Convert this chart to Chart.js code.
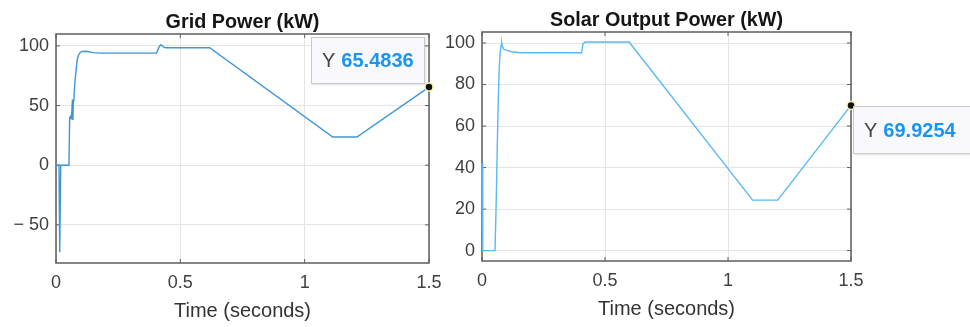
<!DOCTYPE html>
<html>
<head>
<meta charset="utf-8">
<script src="https://cdn.jsdelivr.net/npm/chart.js@4.4.1/dist/chart.umd.min.js"></script>
<style>
  html, body { margin: 0; padding: 0; background: #fff; }
  #wrap { position: relative; width: 970px; height: 327px; overflow: hidden;
          font-family: "Liberation Sans", Arial, Helvetica, sans-serif; }
  .panel { position: absolute; top: 0; height: 327px; }
  .panel canvas { display: block; }
  .title { position: absolute; font-weight: bold; font-size: 19.8px; color: #151515;
           white-space: nowrap; transform: translate(-50%, -50%); }
  .xlabel { position: absolute; font-size: 20px; color: #333; white-space: nowrap;
            transform: translate(-50%, -50%); }
  .tip { position: absolute; box-sizing: border-box; background: #f9f9fd;
         border: 1px solid #c9c9cc; box-shadow: 1px 1px 2px rgba(0,0,0,0.12);
         font-size: 20px; display: flex; align-items: center; padding-left: 10px;
         white-space: nowrap; }
  .tip .k { color: #444; margin-right: 6px; }
  .tip .v { color: #1c95f2; font-weight: bold; }
</style>
</head>
<body>
<div id="wrap">
  <div class="panel" id="pSolar" style="left:440px;width:530px;">
    <canvas id="cSolar" width="530" height="327"></canvas>
    <div class="title" id="tSolar">Solar Output Power (kW)</div>
    <div class="xlabel" id="xSolar">Time (seconds)</div>
    <div class="tip" id="dSolar"><span class="k">Y</span><span class="v"></span></div>
  </div>
  <div class="panel" id="pGrid" style="left:0;width:470px;pointer-events:none;">
    <canvas id="cGrid" width="470" height="327"></canvas>
    <div class="title" id="tGrid">Grid Power (kW)</div>
    <div class="xlabel" id="xGrid">Time (seconds)</div>
    <div class="tip" id="dGrid"><span class="k">Y</span><span class="v"></span></div>
  </div>
</div>
<script>
// Shared time axis ticks (s)
const timeTicks = [0, 0.5, 1, 1.5];

// Grid power (kW) over time (s)
const gridTime = [0, 0.012, 0.015, 0.019, 0.052, 0.055, 0.058, 0.061, 0.063, 0.066, 0.068,
  0.070, 0.072, 0.076, 0.080, 0.085, 0.090, 0.097, 0.105, 0.120, 0.150, 0.180, 0.300,
  0.404, 0.414, 0.422, 0.428, 0.436, 0.445, 0.618, 1.113, 1.210, 1.500];
const gridPower = [0, 0, -73, 0, 0, 40, 41, 39, 42, 55, 38,
  54, 56, 70, 78, 88, 92, 94.5, 95.3, 95.5, 94.4, 94, 94,
  94, 99, 101, 100, 98.6, 98.5, 98.5, 23.6, 23.6, 65.4836];
const gridTicks = [-50, 0, 50, 100];

// Solar output power (kW) over time (s)
const solarTime = [0, 0.003, 0.053, 0.058, 0.062, 0.066, 0.070, 0.074, 0.078, 0.080, 0.084,
  0.090, 0.100, 0.120, 0.155, 0.250, 0.405, 0.410, 0.419, 0.598, 1.100, 1.202, 1.500];
const solarPower = [42, 0, 0, 25, 50, 72, 88, 96, 99, 100.3, 98,
  96.8, 96.6, 95.8, 95.3, 95.3, 95.3, 99.5, 100.5, 100.5, 24.3, 24.3, 69.9254];
const solarTicks = [0, 20, 40, 60, 80, 100];

const FONT = '"Liberation Sans", Arial, Helvetica, sans-serif';

// Axes box with inward tick marks, MATLAB style
const frame = {
  id: 'frame',
  beforeDatasetsDraw(chart) {
    const { ctx, chartArea: a, scales } = chart;
    ctx.save();
    ctx.strokeStyle = '#5e5e5e';
    ctx.lineWidth = 1.5;
    ctx.strokeRect(a.left, a.top, a.right - a.left, a.bottom - a.top);
    ctx.lineWidth = 1;
    ctx.beginPath();
    const L = 4;
    scales.x.ticks.forEach(t => {
      const x = scales.x.getPixelForValue(t.value);
      ctx.moveTo(x, a.bottom); ctx.lineTo(x, a.bottom - L);
      ctx.moveTo(x, a.top); ctx.lineTo(x, a.top + L);
    });
    scales.y.ticks.forEach(t => {
      const y = scales.y.getPixelForValue(t.value);
      ctx.moveTo(a.left, y); ctx.lineTo(a.left + L, y);
      ctx.moveTo(a.right, y); ctx.lineTo(a.right - L, y);
    });
    ctx.stroke();
    ctx.restore();
  }
};

function makePanel(o) {
  const W = o.width, H = 327;
  const last = o.values.length - 1;
  const place = {
    id: 'place',
    afterRender(chart) {
      const a = chart.chartArea;
      const cx = (a.left + a.right) / 2;
      const t = document.getElementById(o.titleId);
      t.style.left = cx + 'px'; t.style.top = o.titleY + 'px';
      const xl = document.getElementById(o.xlabelId);
      xl.style.left = cx + 'px'; xl.style.top = o.xlabelY + 'px';
      const px = chart.scales.x.getPixelForValue(o.times[last]);
      const py = chart.scales.y.getPixelForValue(o.values[last]);
      const tip = document.getElementById(o.tipId);
      tip.querySelector('.v').textContent = o.values[last].toFixed(4);
      tip.style.width = o.tip.w + 'px';
      tip.style.height = o.tip.h + 'px';
      if (o.tip.side === 'above') {
        tip.style.left = (px - 4 - o.tip.w) + 'px';
        tip.style.top = (py - 3 - o.tip.h) + 'px';
      } else {
        tip.style.left = (px + 2) + 'px';
        tip.style.top = (py + 1) + 'px';
      }
    }
  };
  return new Chart(document.getElementById(o.canvasId), {
    type: 'line',
    data: {
      datasets: [{
        data: o.times.map((t, i) => ({ x: t, y: o.values[i] })),
        borderColor: o.color,
        borderWidth: 1.4,
        tension: 0,
        clip: false,
        pointRadius: ctx => (ctx.dataIndex === last ? 4 : 0),
        pointBackgroundColor: '#111',
        pointBorderColor: '#fff3a8',
        pointBorderWidth: 1.5
      }]
    },
    options: {
      responsive: false,
      animation: false,
      events: [],
      layout: { padding: { top: o.area.top, left: 0, right: W - o.area.right, bottom: 0 } },
      plugins: { legend: { display: false }, tooltip: { enabled: false }, title: { display: false } },
      scales: {
        x: {
          type: 'linear', min: 0, max: 1.5,
          afterBuildTicks: s => { s.ticks = timeTicks.map(v => ({ value: v })); },
          afterFit: s => { s.height = H - o.area.bottom; s.paddingLeft = 0; s.paddingRight = 0; },
          grid: { color: '#e4e4e4', lineWidth: 1, drawTicks: false },
          border: { display: false },
          ticks: { padding: 9, color: '#404040', font: { size: 18, family: FONT },
                   maxRotation: 0, autoSkip: false, callback: v => String(v) }
        },
        y: {
          type: 'linear', min: o.yMin, max: o.yMax,
          afterBuildTicks: s => { s.ticks = o.yTicks.map(v => ({ value: v })); },
          afterFit: s => { s.width = o.area.left; s.paddingTop = 0; s.paddingBottom = 0; },
          grid: { color: '#e4e4e4', lineWidth: 1, drawTicks: false },
          border: { display: false },
          ticks: { padding: 7, color: '#404040', font: { size: 18, family: FONT },
                   autoSkip: false,
                   callback: v => (v < 0 ? '\u2212 ' + Math.abs(v) : String(v)) }
        }
      }
    },
    plugins: [frame, place]
  });
}

makePanel({
  canvasId: 'cGrid', titleId: 'tGrid', xlabelId: 'xGrid', tipId: 'dGrid',
  width: 470, area: { left: 56, right: 429, top: 34, bottom: 263 },
  times: gridTime, values: gridPower, yTicks: gridTicks, yMin: -82, yMax: 110,
  color: '#3f96d6', titleY: 21, xlabelY: 310,
  tip: { side: 'above', w: 114, h: 47 }
});

makePanel({
  canvasId: 'cSolar', titleId: 'tSolar', xlabelId: 'xSolar', tipId: 'dSolar',
  width: 530, area: { left: 42, right: 411, top: 32, bottom: 261 },
  times: solarTime, values: solarPower, yTicks: solarTicks, yMin: -5, yMax: 105.3,
  color: '#58b9f5', titleY: 19, xlabelY: 308,
  tip: { side: 'below', w: 130, h: 48 }
});
</script>
</body>
</html>
